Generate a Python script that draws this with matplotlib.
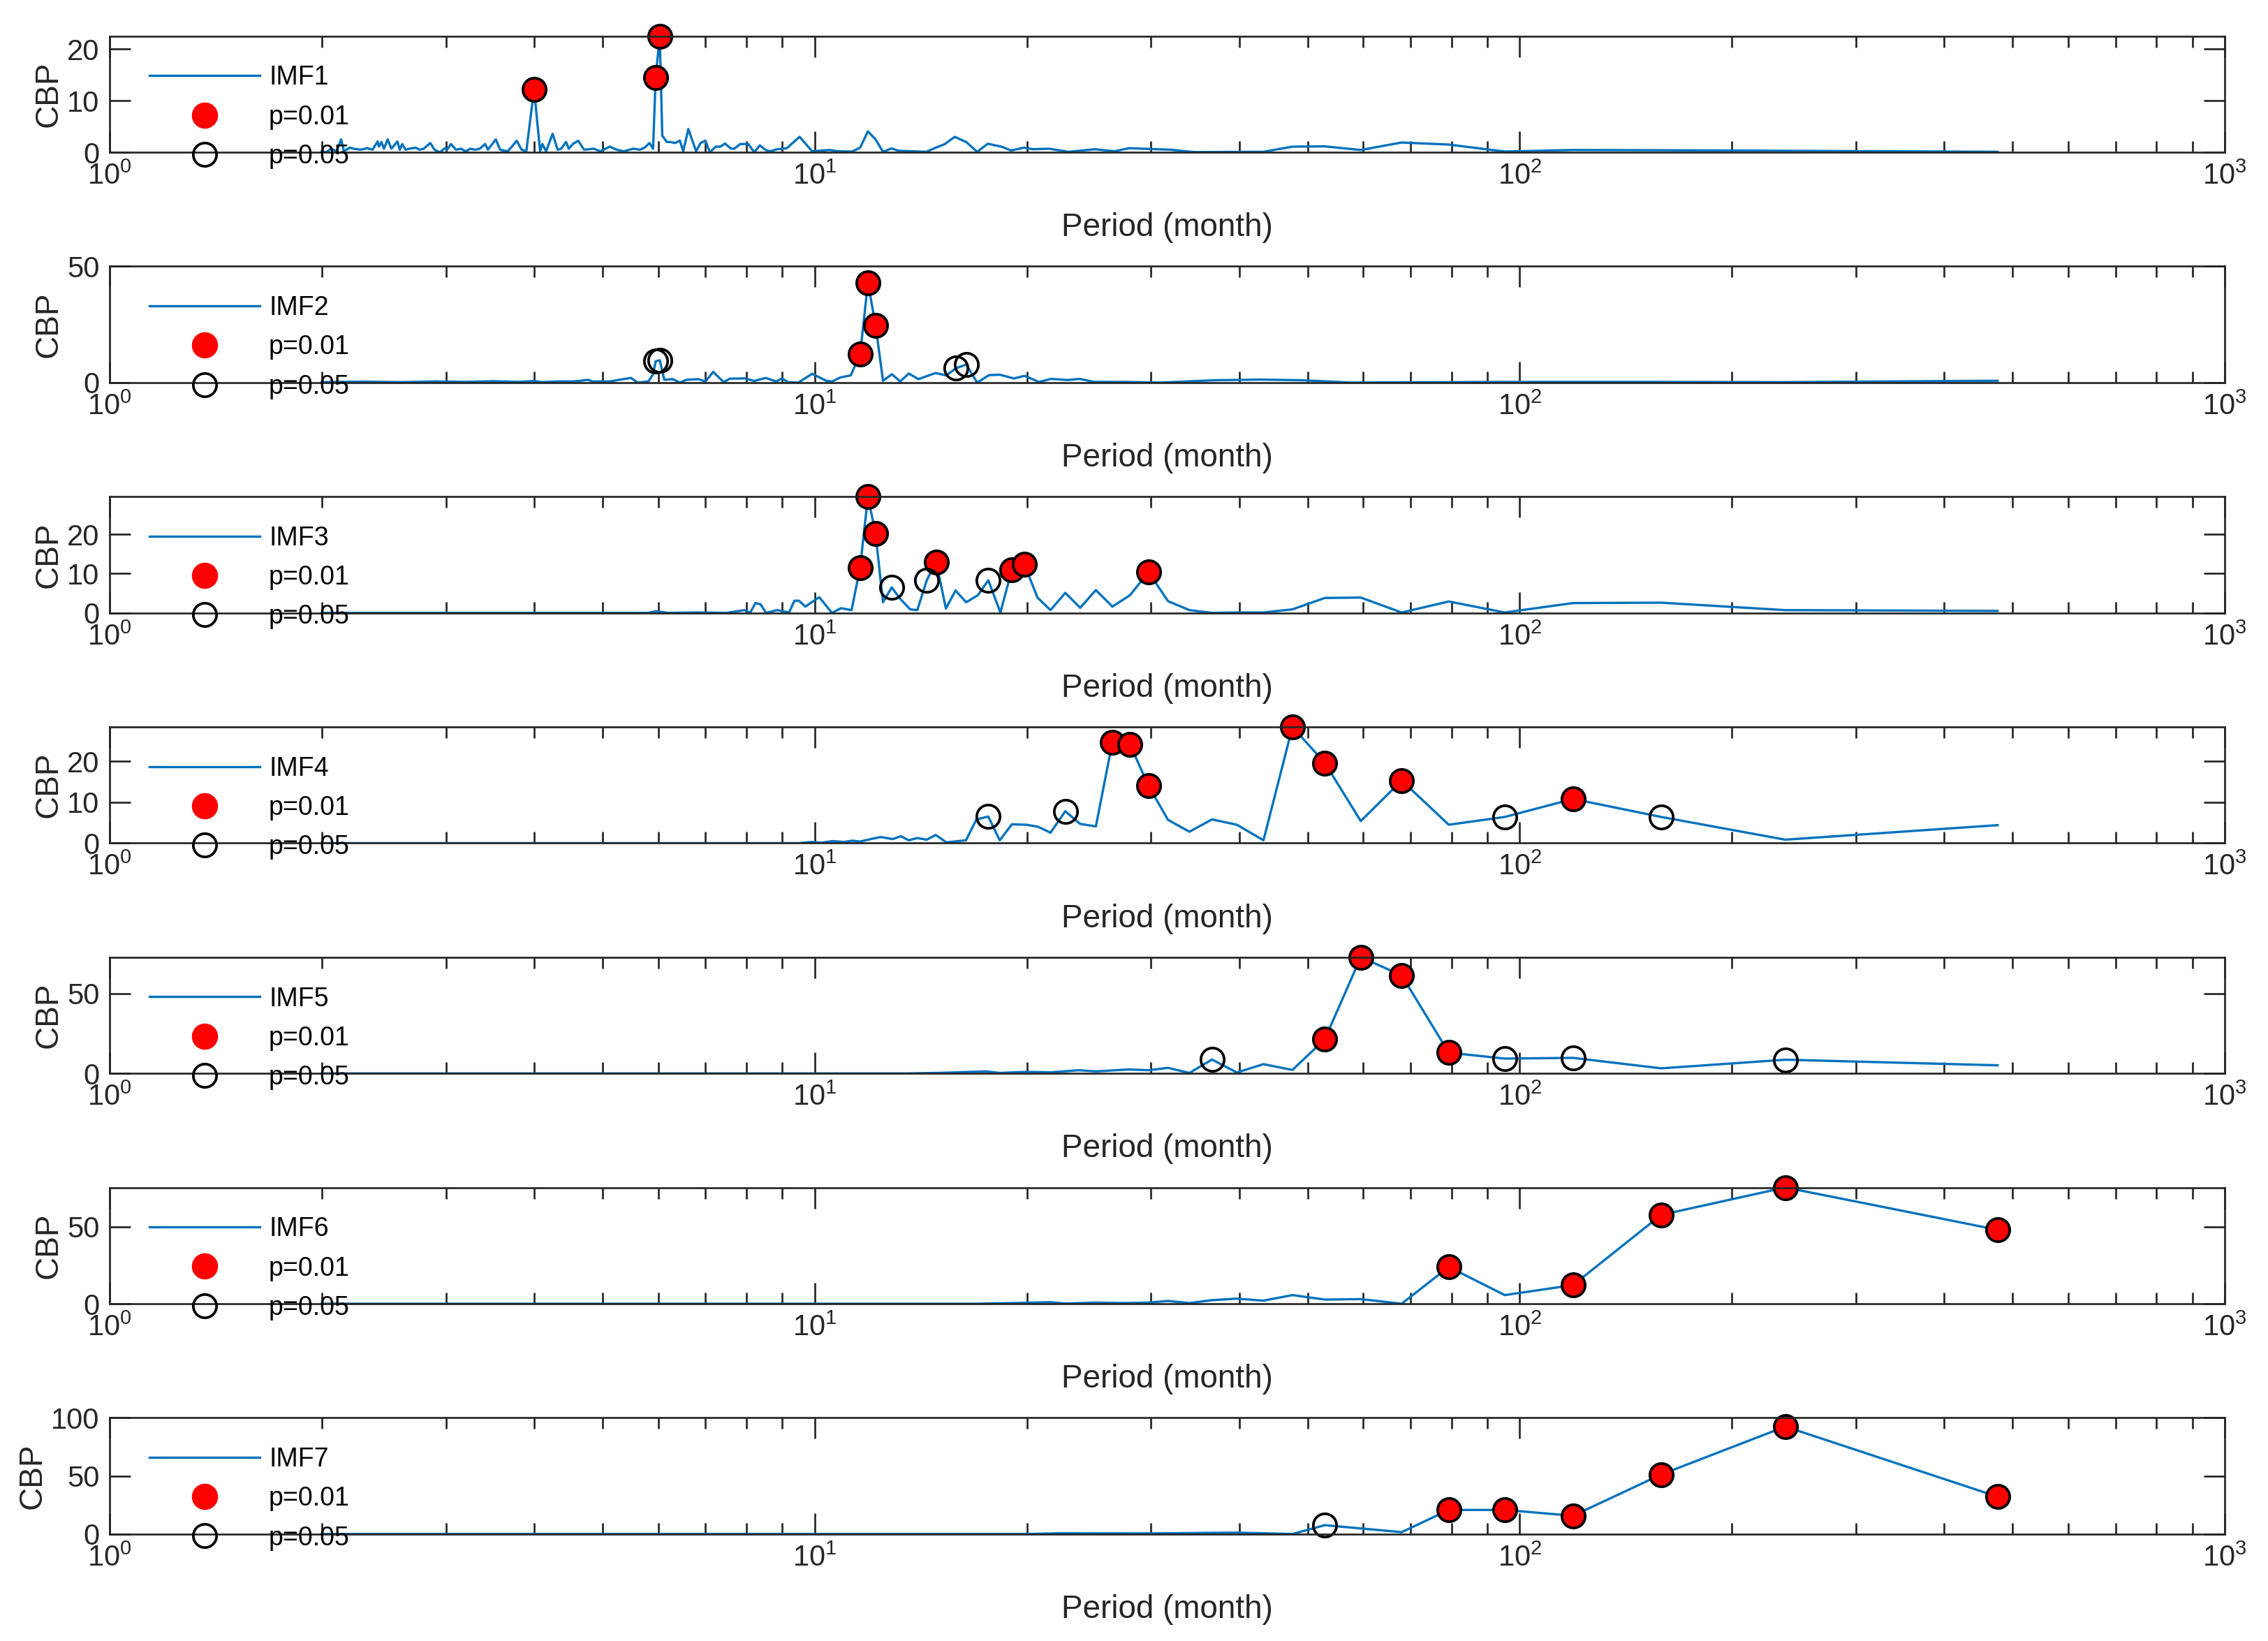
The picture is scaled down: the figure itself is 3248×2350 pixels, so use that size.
import numpy as np
import matplotlib.pyplot as plt
from matplotlib.lines import Line2D
from matplotlib.ticker import LogLocator, NullFormatter

plt.rcParams['font.family'] = ['Liberation Sans', 'DejaVu Sans']

# ---- data (period in months, CBP) ----
period_imf1 = [2.00, 2.03, 2.06, 2.10, 2.13, 2.15, 2.19, 2.22, 2.27, 2.32, 2.36, 2.40, 2.41, 2.43,
               2.45, 2.48, 2.51, 2.56, 2.58, 2.60, 2.63, 2.66, 2.72, 2.75, 2.79, 2.85, 2.89, 2.94,
               2.99, 3.01, 3.05, 3.10, 3.15, 3.20, 3.25, 3.30, 3.35, 3.41, 3.44, 3.53, 3.58, 3.67,
               3.72, 3.78, 3.84, 3.90, 4.00, 4.08, 4.11, 4.16, 4.25, 4.32, 4.37, 4.44, 4.48, 4.54,
               4.62, 4.71, 4.86, 4.97, 5.12, 5.24, 5.36, 5.53, 5.65, 5.74, 5.83, 5.90, 5.95, 6.03,
               6.08, 6.17, 6.24, 6.34, 6.44, 6.51, 6.62, 6.79, 6.89, 7.00, 7.10, 7.24, 7.35, 7.46,
               7.61, 7.69, 7.84, 8.05, 8.21, 8.36, 8.52, 8.65, 8.85, 9.13, 9.52, 9.92, 10.5, 10.8,
               11.3, 11.6, 11.9, 12.2, 12.5, 12.85, 13.15, 14.4, 14.85, 15.3, 15.8, 16.4, 17.0, 17.6,
               18.4, 19.0, 19.8, 20.4, 21.5, 22.9, 25.0, 26.6, 27.9, 32.0, 34.5, 43.3, 47.6, 52.9,
               59.5, 68.0, 79.3, 95.2, 119.0, 158.7, 238.0, 476.0]
cbp_imf1 = [0.2, 0.0, 0.7, 0.2, 2.5, 0.2, 0.9, 0.7, 0.5, 0.8, 0.5, 2.1, 1.1, 2.0,
            0.7, 2.5, 0.7, 2.1, 0.5, 1.6, 0.5, 0.7, 0.9, 0.5, 0.7, 1.8, 0.5, 0.0,
            0.8, 0.5, 1.6, 0.5, 0.7, 0.2, 0.7, 0.5, 0.7, 1.6, 0.5, 2.5, 0.5, 0.2,
            1.1, 2.25, 0.5, 0.2, 12.2, 0.2, 1.6, 0.2, 3.6, 0.5, 0.7, 2.0, 0.7, 1.6,
            2.25, 0.5, 0.7, 0.2, 1.1, 0.5, 0.2, 0.7, 0.5, 0.9, 1.8, 0.7, 14.5, 22.5,
            3.2, 2.0, 2.0, 1.8, 2.25, 0.2, 4.5, 0.2, 1.8, 2.25, 0.0, 1.1, 1.1, 1.7,
            0.7, 0.7, 1.6, 1.6, 0.0, 1.35, 0.45, 0.2, 0.6, 0.8, 3.0, 0.2, 0.45, 0.2,
            0.15, 0.9, 4.05, 2.5, 0.1, 0.75, 0.3, 0.1, 0.9, 1.6, 3.0, 2.0, 0.1, 1.65,
            1.1, 0.35, 0.9, 0.6, 0.7, 0.1, 0.6, 0.2, 0.8, 0.5, 0.05, 0.1, 1.1, 1.15,
            0.45, 1.9, 1.5, 0.15, 0.45, 0.4, 0.3, 0.1]
sig01_period_imf1 = [4.00, 5.95, 6.03]
sig01_cbp_imf1 = [12.2, 14.5, 22.5]
sig05_period_imf1 = []
sig05_cbp_imf1 = []

period_imf2 = [2.0, 2.3, 2.6, 2.9, 3.2, 3.5, 3.8, 4.0, 4.1, 4.33, 4.54, 4.66, 4.77, 4.84, 5.12,
               5.28, 5.49, 5.61, 5.81, 5.90, 5.95, 6.03, 6.12, 6.29, 6.44, 6.58, 6.84, 7.00, 7.18,
               7.43, 7.58, 7.96, 8.21, 8.52, 8.82, 8.99, 9.16, 9.48, 9.92, 10.38, 10.59, 10.87,
               11.25, 11.6, 11.9, 12.2, 12.5, 12.87, 13.22, 13.6, 14.03, 14.84, 15.37, 15.87,
               16.41, 17.0, 17.67, 18.3, 19.16, 19.85, 20.8, 21.66, 22.82, 23.77, 24.9, 27.5,
               30.9, 36.8, 42.8, 49.2, 57.6, 95.2, 158.7, 238.0, 476.0]
cbp_imf2 = [0.2, 0.4, 0.2, 0.5, 0.3, 0.6, 0.3, 0.7, 0.2, 0.5, 0.5, 0.8, 1.2, 0.5, 0.5,
            1.2, 2.0, 0.0, 0.5, 3.6, 9.2, 9.6, 1.2, 1.5, 0.0, 1.2, 1.5, 0.5, 4.6,
            0.2, 1.7, 1.8, 0.7, 2.0, 0.5, 1.8, 0.2, 0.0, 3.8, 0.8, 0.5, 2.2,
            3.1, 12.2, 42.9, 24.7, 0.8, 3.6, 0.5, 3.9, 1.5, 4.1, 3.1, 6.2,
            7.75, 0.0, 3.2, 3.4, 1.8, 2.9, 0.3, 1.6, 1.1, 1.6, 0.3, 0.3,
            0.0, 1.0, 1.3, 1.0, 0.0, 0.3, 0.3, 0.2, 0.8]
sig01_period_imf2 = [11.6, 11.9, 12.2]
sig01_cbp_imf2 = [12.2, 42.9, 24.7]
sig05_period_imf2 = [5.95, 6.03, 15.87, 16.41]
sig05_cbp_imf2 = [9.2, 9.6, 6.2, 7.75]

period_imf3 = [2.0, 5.8, 5.95, 6.03, 6.2, 6.84, 7.5, 7.95, 8.1, 8.24, 8.38, 8.53, 8.85, 9.2,
               9.36, 9.5, 9.7, 10.15, 10.58, 10.9, 11.28, 11.6, 11.9, 12.2, 12.5, 12.86, 13.22,
               13.66, 13.98, 14.42, 14.87, 15.35, 15.84, 16.4, 17.04, 17.63, 18.34, 19.04, 19.83,
               20.7, 21.6, 22.67, 23.8, 25.05, 26.44, 28.0, 29.75, 31.7, 34.0, 36.6, 39.7, 43.3,
               47.6, 52.9, 59.5, 68.0, 79.3, 95.2, 119.0, 158.7, 238.0, 476.0]
cbp_imf3 = [0.0, 0.0, 0.4, 0.3, 0.0, 0.1, 0.0, 0.7, 0.0, 2.5, 2.2, 0.0, 0.7, 0.1,
            3.1, 3.1, 1.6, 4.0, 0.0, 1.2, 0.7, 11.5, 29.6, 20.2, 2.7, 6.5, 3.6,
            0.9, 0.7, 8.3, 13.0, 1.1, 5.7, 2.7, 4.5, 8.3, 0.1, 11.0, 12.4,
            3.9, 0.7, 5.1, 1.3, 5.8, 1.6, 4.5, 10.4, 3.0, 0.7, 0.0, 0.1, 0.1,
            0.9, 3.8, 3.9, 0.1, 2.9, 0.1, 2.5, 2.6, 0.7, 0.5]
sig01_period_imf3 = [11.6, 11.9, 12.2, 14.87, 19.04, 19.83, 29.75]
sig01_cbp_imf3 = [11.5, 29.6, 20.2, 13.0, 11.0, 12.4, 10.4]
sig05_period_imf3 = [12.86, 14.42, 17.63]
sig05_cbp_imf3 = [6.5, 8.3, 8.3]

period_imf4 = [2.0, 9.5, 9.9, 10.2, 10.6, 11.0, 11.3, 11.6, 12.09, 12.4, 12.9, 13.25, 13.6, 13.97,
               14.42, 14.85, 15.37, 16.39, 16.96, 17.63, 18.3, 19.04, 19.97, 20.75, 21.6, 22.67,
               23.8, 25.05, 26.44, 28.0, 29.75, 31.7, 34.0, 36.6, 39.7, 43.3, 47.6, 52.9, 59.5,
               68.0, 79.3, 95.2, 119.0, 158.7, 238.0, 476.0]
cbp_imf4 = [0.0, 0.0, 0.3, 0.1, 0.5, 0.3, 0.6, 0.4, 1.1, 1.5, 1.0, 1.7, 0.7, 1.25,
            0.85, 2.0, 0.2, 0.7, 5.8, 6.5, 0.7, 4.6, 4.5, 4.0, 2.55, 7.8,
            4.7, 4.1, 24.7, 24.1, 14.0, 5.7, 2.8, 5.8, 4.5, 0.7, 28.4, 19.6, 5.4,
            15.3, 4.5, 6.4, 10.8, 6.4, 0.85, 4.4]
sig01_period_imf4 = [26.44, 28.0, 29.75, 47.6, 52.9, 68.0, 119.0]
sig01_cbp_imf4 = [24.7, 24.1, 14.0, 28.4, 19.6, 15.3, 10.8]
sig05_period_imf4 = [17.63, 22.67, 95.2, 158.7]
sig05_cbp_imf4 = [6.5, 7.8, 6.4, 6.4]

period_imf5 = [2.0, 13.55, 15.2, 17.5, 18.3, 19.9, 21.6, 23.7, 25.05, 27.9, 29.75, 31.7, 34.0,
               36.6, 39.7, 43.3, 47.6, 52.9, 59.5, 68.0, 79.3, 95.2, 119.0, 158.7, 238.0, 476.0]
cbp_imf5 = [0.0, 0.0, 0.4, 1.3, 0.3, 1.0, 0.7, 2.0, 1.3, 2.5, 2.0, 3.5, 0.3,
            8.7, 0.6, 5.8, 2.2, 21.4, 72.8, 61.4, 13.0, 9.3, 9.75, 3.2, 8.6, 5.1]
sig01_period_imf5 = [52.9, 59.5, 68.0, 79.3]
sig01_cbp_imf5 = [21.4, 72.8, 61.4, 13.0]
sig05_period_imf5 = [36.6, 95.2, 119.0, 238.0]
sig05_cbp_imf5 = [8.7, 9.3, 9.75, 8.6]

period_imf6 = [2.0, 17.0, 19.2, 21.6, 22.67, 25.05, 27.5, 29.75, 31.7, 34.0, 36.6, 39.7, 43.3,
               47.6, 52.9, 59.5, 68.0, 79.3, 95.2, 119.0, 158.7, 238.0, 476.0]
cbp_imf6 = [0.0, 0.0, 0.45, 1.0, 0.1, 0.75, 0.45, 0.75, 1.8, 0.45, 2.3, 3.3, 2.0,
            5.6, 2.7, 3.0, 0.0, 23.9, 5.6, 12.1, 57.7, 75.5, 48.0]
sig01_period_imf6 = [79.3, 119.0, 158.7, 238.0, 476.0]
sig01_cbp_imf6 = [23.9, 12.1, 57.7, 75.5, 48.0]
sig05_period_imf6 = []
sig05_cbp_imf6 = []

period_imf7 = [2.0, 20.0, 22.1, 30.0, 39.7, 47.6, 52.9, 68.0, 79.3, 95.2, 119.0, 158.7, 238.0, 476.0]
cbp_imf7 = [0.0, 0.0, 0.6, 0.5, 1.2, 0.0, 7.6, 1.6, 20.7, 20.7, 15.7, 51.2, 92.4, 32.1]
sig01_period_imf7 = [79.3, 95.2, 119.0, 158.7, 238.0, 476.0]
sig01_cbp_imf7 = [20.7, 20.7, 15.7, 51.2, 92.4, 32.1]
sig05_period_imf7 = [52.9]
sig05_cbp_imf7 = [7.6]

names = ['IMF1', 'IMF2', 'IMF3', 'IMF4', 'IMF5', 'IMF6', 'IMF7']
y_top = [22.5, 50, 29.6, 28.4, 72.8, 75.5, 100]
y_ticks = [[0, 10, 20], [0, 50], [0, 10, 20], [0, 10, 20], [0, 50], [0, 50], [0, 50, 100]]

panels = [
    (period_imf1, cbp_imf1, sig01_period_imf1, sig01_cbp_imf1, sig05_period_imf1, sig05_cbp_imf1),
    (period_imf2, cbp_imf2, sig01_period_imf2, sig01_cbp_imf2, sig05_period_imf2, sig05_cbp_imf2),
    (period_imf3, cbp_imf3, sig01_period_imf3, sig01_cbp_imf3, sig05_period_imf3, sig05_cbp_imf3),
    (period_imf4, cbp_imf4, sig01_period_imf4, sig01_cbp_imf4, sig05_period_imf4, sig05_cbp_imf4),
    (period_imf5, cbp_imf5, sig01_period_imf5, sig01_cbp_imf5, sig05_period_imf5, sig05_cbp_imf5),
    (period_imf6, cbp_imf6, sig01_period_imf6, sig01_cbp_imf6, sig05_period_imf6, sig05_cbp_imf6),
    (period_imf7, cbp_imf7, sig01_period_imf7, sig01_cbp_imf7, sig05_period_imf7, sig05_cbp_imf7),
]

# ---- figure ----
blue = '#0072BD'
dark = '#262626'
fig = plt.figure(figsize=(3248 / 300, 2350 / 300), dpi=300)

left, width = 0.0483, 0.9327
h, pitch = 0.07085, 0.14033
bottom0 = 0.0652

for i, (px, py, p1x, p1y, p5x, p5y) in enumerate(panels):
    ax = fig.add_axes([left, bottom0 + (6 - i) * pitch, width, h])
    ax.plot(px, py, color=blue, lw=0.8)
    ax.plot(p1x, p1y, ls='none', marker='o', ms=8, mfc='r', mec='k', mew=0.9, clip_on=False)
    ax.plot(p5x, p5y, ls='none', marker='o', ms=8, mfc='none', mec='k', mew=0.9, clip_on=False)

    ax.set_xscale('log')
    ax.set_xlim(1, 1000)
    ax.set_ylim(0, y_top[i])
    ax.set_yticks(y_ticks[i])
    ax.xaxis.set_minor_locator(LogLocator(base=10, subs=np.arange(2, 10), numticks=20))
    ax.xaxis.set_minor_formatter(NullFormatter())

    ax.tick_params(which='both', direction='in', top=True, right=True,
                   color=dark, labelcolor=dark, width=0.65)
    ax.tick_params(which='major', length=7.3, labelsize=10, pad=3.5)
    ax.tick_params(which='minor', length=3.8)
    for s in ax.spines.values():
        s.set_linewidth(0.65)
        s.set_color(dark)

    ax.set_xlabel('Period (month)', fontsize=11, color=dark, labelpad=7.5)
    ax.set_ylabel('CBP', fontsize=11, color=dark, labelpad=1)

    handles = [
        Line2D([], [], color=blue, lw=0.8),
        Line2D([], [], ls='none', marker='o', ms=8, mfc='r', mec='r'),
        Line2D([], [], ls='none', marker='o', ms=8, mfc='none', mec='k', mew=0.9),
    ]
    ax.legend(handles, [names[i], 'p=0.01', 'p=0.05'], loc='upper left',
              bbox_to_anchor=(0.019, 0.749), frameon=False, fontsize=9,
              handlelength=4.2, handletextpad=0.35, labelspacing=0.54,
              borderpad=0, borderaxespad=0)

fig.savefig('out.png', dpi=300)
